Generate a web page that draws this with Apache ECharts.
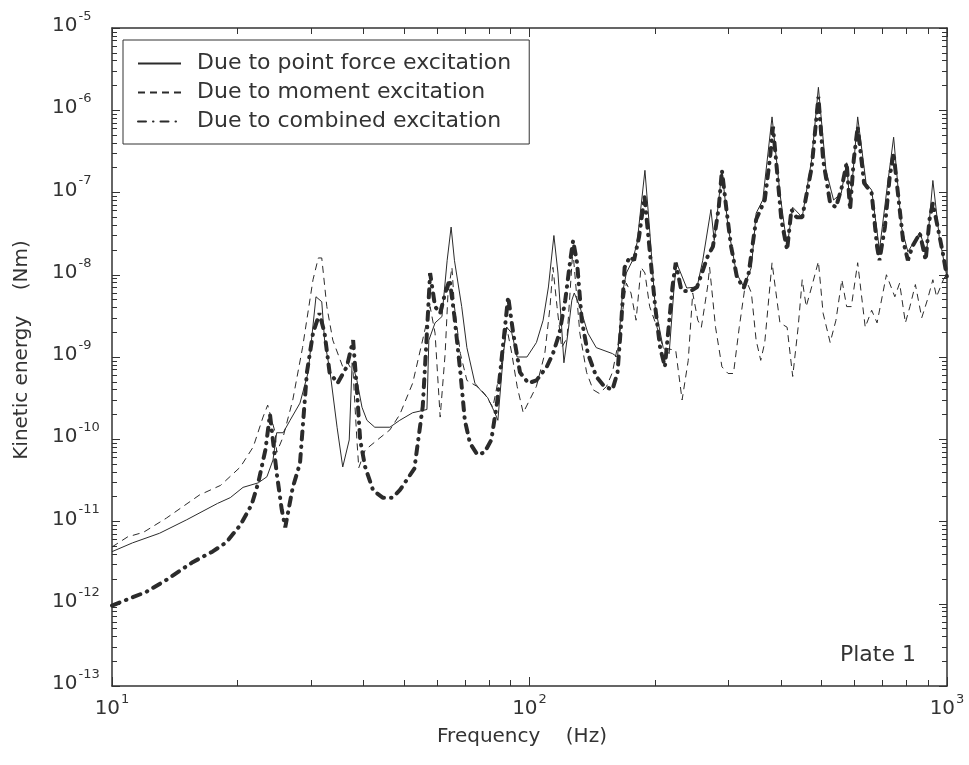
<!DOCTYPE html>
<html>
<head>
<meta charset="utf-8">
<script src="https://cdn.jsdelivr.net/npm/echarts@6/dist/echarts.min.js"></script>
<style>
  html, body { margin: 0; padding: 0; background: #fff; }
  #chart { width: 969px; height: 765px; }
</style>
</head>
<body>
<div id="chart"></div>
<script>
// Kinetic energy spectra of plate 1 (frequency in Hz, energy in Nm)
const forceFreq = [10, 11.2, 13.0, 15.1, 17.9, 19.2, 20.6, 22.4, 23.5, 24.3, 24.8, 25.7, 26.7, 28.2, 29.5, 30.8, 31.8, 32.3, 33.3, 34.6,
  35.7, 37.0, 37.6, 38.6, 39.7, 40.8, 42.6, 46.3, 48.9, 52.5, 56.8, 57.4, 59.4, 61.7, 63.5, 64.9, 66.1, 68.8, 70.8, 74.0,
  76.2, 79.4, 82.6, 84.0, 86.6, 88.2, 90.7, 93.4, 98.6, 103.9, 107.8, 111, 114.4, 117, 119.4, 120.9, 123.6, 126.3, 128, 132,
  138, 144.5, 158, 162.5, 167, 170.6, 176.6, 181, 189, 194, 200, 209, 216, 222, 225, 238, 252, 260, 272, 277,
  284, 289, 299, 313, 326, 340, 349, 362, 381, 398, 414, 427, 450, 474, 492, 513, 535, 558, 575, 586,
  611, 640, 660, 689, 716, 745, 778, 806, 861, 893, 925, 958, 1000];
const forceKE = [4.3e-12, 5.5e-12, 7.2e-12, 1.05e-11, 1.66e-11, 1.95e-11, 2.6e-11, 2.95e-11, 3.5e-11, 5.6e-11, 1.2e-10, 1.2e-10, 1.7e-10, 2.75e-10, 6.5e-10, 5.4e-9, 4.7e-9, 1.6e-9, 6.5e-10, 1.4e-10,
  4.6e-11, 9.8e-11, 8.5e-10, 5.2e-10, 2.45e-10, 1.7e-10, 1.4e-10, 1.4e-10, 1.7e-10, 2.1e-10, 2.3e-10, 1.6e-9, 2.6e-9, 3.1e-9, 1.5e-8, 3.8e-8, 1.5e-8, 4.1e-9, 1.3e-9, 4.8e-10,
  4.0e-10, 3.2e-10, 2.1e-10, 1.7e-10, 1.1e-9, 2.3e-9, 1.95e-9, 1.0e-9, 1.0e-9, 1.5e-9, 2.8e-9, 7.1e-9, 3.0e-8, 1.05e-8, 2.3e-9, 8.5e-10, 1.95e-9, 4.9e-9, 6.0e-9, 4.1e-9,
  1.95e-9, 1.3e-9, 1.1e-9, 1.0e-9, 6.0e-9, 1.05e-8, 1.5e-8, 2.45e-8, 1.86e-7, 3.5e-8, 4.1e-9, 1.3e-9, 1.1e-9, 7.1e-9, 1.4e-8, 6.9e-9, 7.1e-9, 1.5e-8, 6.2e-8, 2.6e-8,
  8.1e-8, 1.86e-7, 3.8e-8, 1.05e-8, 7.1e-9, 1.23e-8, 5.6e-8, 8.1e-8, 8.3e-7, 9.8e-8, 2.2e-8, 6.6e-8, 5.0e-8, 2.5e-7, 1.9e-6, 1.86e-7, 8.1e-8, 9.8e-8, 2.3e-7, 6.6e-8,
  8.3e-7, 1.3e-7, 1.07e-7, 2.0e-8, 9.8e-8, 4.7e-7, 3.8e-8, 1.9e-8, 3.3e-8, 1.8e-8, 1.4e-7, 2.9e-8, 9.3e-9];

const momentFreq = [10, 10.9, 11.9, 13.5, 16.2, 18.2, 20.3, 21.8, 23.0, 23.6, 24.6, 24.8, 25.7, 27.1, 28.6, 30.3, 31.2, 31.8, 32.7, 33.8,
  35.7, 36.7, 37.8, 38.6, 39.0, 40.4, 43.2, 46.3, 48.9, 52.5, 55.6, 57.8, 59.4, 61.1, 62.8, 63.8, 65.2, 66.1, 68.3, 70.8,
  74.8, 78, 81.7, 86, 88.2, 90.7, 93.4, 96.6, 103.9, 108.8, 112, 113.8, 116.4, 119.4, 123, 127, 132, 137, 142, 147,
  153, 158, 164, 170.6, 175, 180, 185, 189, 194, 202, 209, 224, 232, 240, 246, 253, 258, 267, 270, 279,
  289, 299, 308, 318, 330, 340, 349, 358, 366, 381, 398, 414, 427, 440, 450, 460, 474, 492, 505, 525,
  542, 560, 575, 590, 611, 637, 660, 680, 716, 750, 770, 795, 815, 840, 870, 897, 925, 944, 980, 1000];
const momentKE = [4.9e-12, 6.5e-12, 7.4e-12, 1.1e-11, 2.1e-11, 2.75e-11, 4.6e-11, 8.1e-11, 1.86e-10, 2.6e-10, 1.2e-10, 6.9e-11, 1.07e-10, 3.0e-10, 1.3e-9, 8.7e-9, 1.6e-8, 1.6e-8, 4.1e-9, 1.6e-9,
  7.6e-10, 8.5e-10, 6.5e-10, 9.8e-11, 4.5e-11, 7.4e-11, 9.8e-11, 1.3e-10, 2.0e-10, 4.8e-10, 1.7e-9, 4.1e-9, 1.95e-9, 1.86e-10, 1.1e-9, 6.0e-9, 1.23e-8, 4.1e-9, 1.1e-9, 5.2e-10,
  4.4e-10, 3.6e-10, 2.45e-10, 9.1e-10, 2.3e-9, 1.1e-9, 4.4e-10, 2.1e-10, 4.4e-10, 1.1e-9, 4.1e-9, 1.23e-8, 4.1e-9, 1.3e-9, 1.7e-9, 2.0e-8, 1.95e-9, 6.5e-10, 4.0e-10, 3.6e-10,
  4.4e-10, 6.5e-10, 1.7e-9, 7.9e-9, 6.0e-9, 2.8e-9, 1.23e-8, 1.05e-8, 4.1e-9, 2.3e-9, 1.3e-9, 1.2e-9, 3.0e-10, 9.1e-10, 6.0e-9, 2.8e-9, 2.3e-9, 7.1e-9, 1.23e-8, 2.3e-9,
  7.6e-10, 6.3e-10, 6.3e-10, 2.3e-9, 8.7e-9, 6.0e-9, 1.6e-9, 9.1e-10, 1.5e-9, 1.4e-8, 2.6e-9, 2.3e-9, 5.8e-10, 2.3e-9, 8.7e-9, 4.1e-9, 7.1e-9, 1.45e-8, 3.4e-9, 1.5e-9,
  2.8e-9, 8.7e-9, 4.1e-9, 4.1e-9, 1.4e-8, 2.3e-9, 3.7e-9, 2.6e-9, 1.0e-8, 5.4e-9, 7.9e-9, 2.6e-9, 4.1e-9, 7.6e-9, 3.0e-9, 4.9e-9, 8.7e-9, 5.4e-9, 8.7e-9, 1.05e-8];

const combinedFreq = [10, 12.1, 13.5, 15.6, 17.4, 18.8, 20.3, 21.6, 22.4, 23.3, 23.9, 24.8, 25.5, 26.0, 27.1, 28.2, 29.3, 30.3, 31.4, 32.3,
  33.2, 34.7, 36.5, 37.8, 38.6, 39.3, 40.4, 42.2, 44.5, 47, 48.9, 53, 55.5, 56.8, 57.8, 59.4, 61.1, 62.8, 64.4, 66.1,
  68.3, 70, 72, 75, 78, 81, 83.6, 86, 88.9, 91.4, 94.9, 99.4, 103.9, 110, 113.8, 118, 121.8, 125.2, 127.2, 130,
  133.4, 138, 144.5, 151, 158, 162.5, 166, 169, 174, 178, 183, 188.6, 194, 200, 205.5, 211, 220, 224, 231, 242,
  252, 267, 275, 284, 289, 297, 304, 314, 326, 335, 349, 366, 377, 383, 391, 401, 414, 424, 436, 450,
  474, 492, 505, 525, 542, 560, 575, 586, 598, 611, 633, 660, 680, 689, 710, 729, 745, 760, 785, 806,
  826, 861, 889, 908, 925, 950, 978, 1000];
const combinedKE = [9.5e-13, 1.4e-12, 1.95e-12, 3.2e-12, 4.3e-12, 5.6e-12, 9.1e-12, 1.6e-11, 2.95e-11, 7.4e-11, 2.0e-10, 3.9e-11, 1.4e-11, 8.5e-12, 2.6e-11, 5.1e-11, 6.5e-10, 1.95e-9, 3.4e-9, 1.95e-9,
  6.5e-10, 4.8e-10, 7.6e-10, 1.6e-9, 4.0e-10, 9.8e-11, 4.6e-11, 2.4e-11, 1.95e-11, 1.95e-11, 2.4e-11, 4.4e-11, 2.5e-10, 2.0e-9, 1.05e-8, 4.1e-9, 3.4e-9, 6.0e-9, 8.7e-9, 3.1e-9,
  6.5e-10, 1.7e-10, 9.0e-11, 6.5e-11, 6.9e-11, 9.8e-11, 2.75e-10, 1.1e-9, 5.4e-9, 1.95e-9, 6.5e-10, 4.8e-10, 5.2e-10, 7.6e-10, 1.1e-9, 1.95e-9, 4.9e-9, 1.5e-8, 2.6e-8, 1.4e-8,
  2.8e-9, 1.1e-9, 5.8e-10, 4.4e-10, 4.0e-10, 6.5e-10, 2.8e-9, 1.23e-8, 1.66e-8, 1.5e-8, 2.9e-8, 8.9e-8, 2.0e-8, 4.1e-9, 1.3e-9, 7.6e-10, 7.1e-9, 1.4e-8, 6.5e-9, 6.2e-9,
  7.1e-9, 1.66e-8, 2.2e-8, 6.6e-8, 1.86e-7, 5.6e-8, 2.2e-8, 9.3e-9, 6.9e-9, 1.05e-8, 4.7e-8, 8.1e-8, 2.7e-7, 6.3e-7, 2.0e-7, 4.7e-8, 2.0e-8, 6.2e-8, 5.0e-8, 5.0e-8,
  2.0e-7, 1.45e-6, 2.5e-7, 7.4e-8, 6.6e-8, 1.17e-7, 2.3e-7, 6.2e-8, 2.5e-7, 6.3e-7, 1.3e-7, 9.8e-8, 2.2e-8, 1.5e-8, 3.8e-8, 1.55e-7, 3.0e-7, 1.17e-7, 2.6e-8, 1.5e-8,
  2.2e-8, 3.2e-8, 1.5e-8, 4.7e-8, 7.4e-8, 3.8e-8, 1.8e-8, 9.3e-9];

const seriesNames = ['Due to point force excitation', 'Due to moment excitation', 'Due to combined excitation'];

// Axis decades (powers of ten) and minor tick multipliers
const xDecades = [1, 2, 3];
const yDecades = [-13, -12, -11, -10, -9, -8, -7, -6, -5];
const minorSteps = [2, 3, 4, 5, 6, 7, 8, 9];

const FONT = 'DejaVu Sans';
const INK = '#333';

function majors(decades) { return decades.map(d => Math.pow(10, d)); }
function minors(decades) {
  const out = [];
  decades.slice(0, -1).forEach(d => minorSteps.forEach(k => out.push(k * Math.pow(10, d))));
  return out;
}
function pairs(xs, ys) { return xs.map((x, i) => [x, ys[i]]); }
function powLabel(v) {
  const e = Math.round(Math.log10(v));
  return '{b|10}{e|' + e + '}';
}
const powRich = {
  b: { fontFamily: FONT, fontSize: 20, color: INK, verticalAlign: 'bottom' },
  e: { fontFamily: FONT, fontSize: 13, color: INK, verticalAlign: 'top', padding: [0, 0, 13, 1] }
};

const majorX = majors(xDecades), minorX = minors(xDecades);
const majorY = majors(yDecades), minorY = minors(yDecades);
const xMin = majorX[0], xMax = majorX[majorX.length - 1];
const yMin = majorY[0], yMax = majorY[majorY.length - 1];

function xAx(pos, ticks, len, withLabels, lineOn) {
  return {
    type: 'log', logBase: 10, min: xMin, max: xMax, position: pos, gridIndex: 0,
    axisLine: { show: lineOn, onZero: false, lineStyle: { color: INK, width: 1.5 } },
    axisTick: { show: true, inside: true, length: len, customValues: ticks, lineStyle: { color: INK, width: 1 } },
    axisLabel: withLabels ? { show: true, customValues: ticks, formatter: powLabel, rich: powRich, margin: 7 } : { show: false },
    splitLine: { show: false }, minorTick: { show: false }
  };
}
function yAx(pos, ticks, len, withLabels, lineOn) {
  return {
    type: 'log', logBase: 10, min: yMin, max: yMax, position: pos, gridIndex: 0,
    axisLine: { show: lineOn, onZero: false, lineStyle: { color: INK, width: 1.5 } },
    axisTick: { show: true, inside: true, length: len, customValues: ticks, lineStyle: { color: INK, width: 1 } },
    axisLabel: withLabels ? { show: true, customValues: ticks, formatter: powLabel, rich: powRich, align: 'left', margin: 60, padding: [0, 0, 10, 0] } : { show: false },
    splitLine: { show: false }, minorTick: { show: false }
  };
}

const chart = echarts.init(document.getElementById('chart'), null, { renderer: 'canvas' });
chart.setOption({
  animation: false,
  backgroundColor: '#fff',
  grid: { left: 112, right: 22, top: 28, bottom: 79, containLabel: false, outerBoundsMode: 'none' },
  xAxis: [
    xAx('bottom', majorX, 9, true, true),
    xAx('bottom', minorX, 6, false, false),
    xAx('top', majorX, 9, false, true),
    xAx('top', minorX, 6, false, false)
  ],
  yAxis: [
    yAx('left', majorY, 8, true, true),
    yAx('left', minorY, 5, false, false),
    yAx('right', majorY, 8, false, true),
    yAx('right', minorY, 5, false, false)
  ],
  legend: {
    orient: 'vertical', left: 123, top: 40,
    data: seriesNames, selectedMode: false,
    itemWidth: 43, itemHeight: 14, itemGap: 0,
    padding: [9, 18, 8, 14],
    borderColor: INK, borderWidth: 1, backgroundColor: '#fff',
    itemStyle: { opacity: 0 },
    textStyle: { fontFamily: FONT, fontSize: 22, color: INK, lineHeight: 29, padding: [0, 0, 0, 11] }
  },
  graphic: [
    { type: 'text', x: 522, y: 737, style: { text: 'Frequency    (Hz)', font: '20px "' + FONT + '"', fill: INK, align: 'center', verticalAlign: 'middle' } },
    { type: 'text', x: 22, y: 350, rotation: Math.PI / 2, style: { text: 'Kinetic energy    (Nm)', font: '20px "' + FONT + '"', fill: INK, align: 'center', verticalAlign: 'middle' } },
    { type: 'text', x: 916, y: 655, style: { text: 'Plate 1', font: '22px "' + FONT + '"', fill: INK, align: 'right', verticalAlign: 'middle' } }
  ],
  series: [
    {
      name: seriesNames[0], type: 'line', xAxisIndex: 0, yAxisIndex: 0,
      data: pairs(forceFreq, forceKE), symbol: 'none', showSymbol: false,
      lineStyle: { color: '#2b2b2b', width: 1 }, itemStyle: { color: '#2b2b2b' }, z: 2
    },
    {
      name: seriesNames[1], type: 'line', xAxisIndex: 0, yAxisIndex: 0,
      data: pairs(momentFreq, momentKE), symbol: 'none', showSymbol: false,
      lineStyle: { color: '#2b2b2b', width: 1, type: [7, 5] }, itemStyle: { color: '#2b2b2b' }, z: 3
    },
    {
      name: seriesNames[2], type: 'line', xAxisIndex: 0, yAxisIndex: 0,
      data: pairs(combinedFreq, combinedKE), symbol: 'none', showSymbol: false,
      lineStyle: { color: '#2b2b2b', width: 4, type: [8, 7, 0.5, 7], cap: 'round' }, itemStyle: { color: '#2b2b2b' }, z: 4
    }
  ]
});
</script>
</body>
</html>
